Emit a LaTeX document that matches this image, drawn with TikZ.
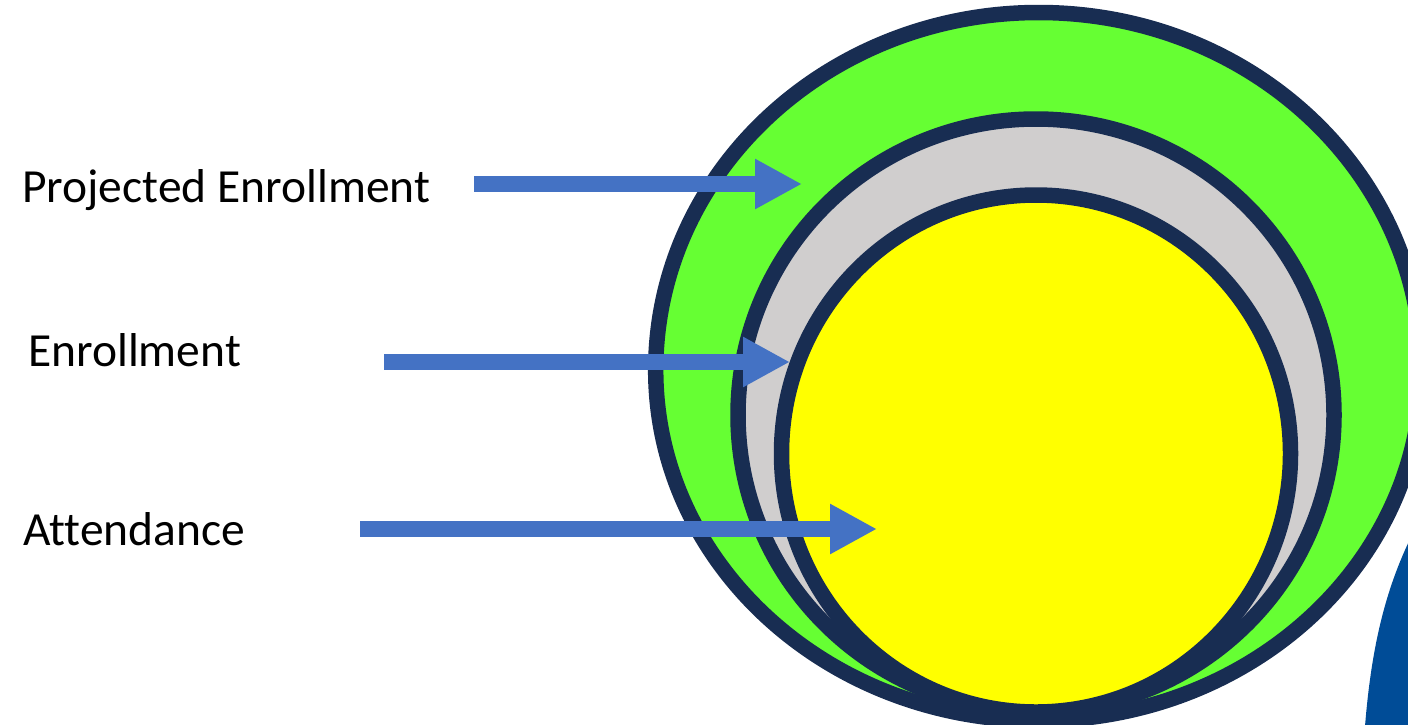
\documentclass[tikz,border=0pt]{standalone}
\usepackage{fontspec}
\setmainfont[Ligatures=NoCommon]{Carlito}
\usetikzlibrary{arrows.meta}
\definecolor{navy}{RGB}{24,45,82}
\definecolor{ringgreen}{RGB}{102,255,51}
\definecolor{ringgray}{RGB}{208,206,206}
\definecolor{ringyellow}{RGB}{255,255,0}
\definecolor{arrowblue}{RGB}{68,114,196}
\definecolor{deepblue}{RGB}{0,76,151}
\tikzset{
  ring/.style={draw=navy, line width=15.5pt},
  label/.style={anchor=base west, inner sep=0pt, font=\fontsize{47.5}{52}\selectfont, text=black},
  pointer/.style={draw=arrowblue, line width=16pt, line cap=butt,
    -{Triangle[length=47pt,width=47pt,fill=arrowblue]}}
}
\begin{document}
\begin{tikzpicture}[x=1pt,y=-1pt]
\useasboundingbox (0,0) rectangle (1408,724);
\begin{scope}
\clip (0,0) rectangle (1408,724);
\fill[deepblue] (1364,740) .. controls (1370,650) and (1385,590) .. (1412,535) -- (1500,535) -- (1500,740) -- cycle;
% outer ring: upper and lower half-ellipses
\path[ring, fill=ringgreen] (655.7,370)
  arc[start angle=180, end angle=0, x radius=383pt, y radius=357.5pt]
  arc[start angle=0, end angle=-180, x radius=383pt, y radius=350.5pt] -- cycle;
\path[ring, fill=ringgray] (1036,415) ellipse [x radius=298pt, y radius=296pt];
\path[ring, fill=ringyellow] (1036,453.5) ellipse [x radius=254.5pt, y radius=258.5pt];
\end{scope}
\node[label] (proj) at (22,202) {Projected Enrollment};
\node[label] (enr) at (28,366) {Enrollment};
\node[label] (att) at (23,545) {Attendance};
\coordinate (p1s) at (474,184);
\coordinate (p1e) at (802,184);
\coordinate (p2s) at (384,362);
\coordinate (p2e) at (790,362);
\coordinate (p3s) at (360,529);
\coordinate (p3e) at (877,529);
\draw[pointer] (p1s) -- (p1e);
\draw[pointer] (p2s) -- (p2e);
\draw[pointer] (p3s) -- (p3e);
\end{tikzpicture}
\end{document}
